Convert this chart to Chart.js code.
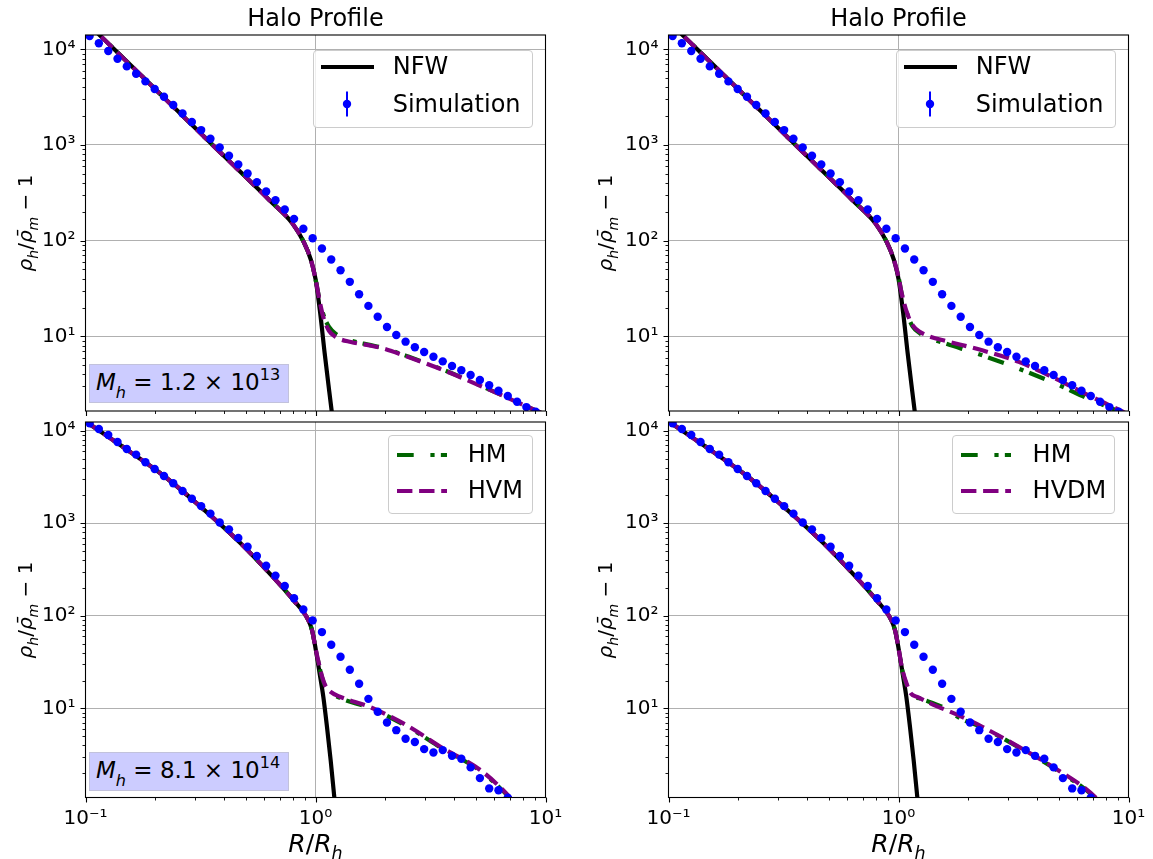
<!DOCTYPE html>
<html><head><meta charset="utf-8">
<script src="https://cdn.jsdelivr.net/npm/chart.js@4.4.1/dist/chart.umd.min.js"></script>
<style>
html,body{margin:0;padding:0;background:#fff;}
#page{position:relative;width:1153px;height:859px;overflow:hidden;font-family:'DejaVu Sans';color:#000;}
canvas{position:absolute;left:0;top:0;}
.abs{position:absolute;white-space:nowrap;}
.it{font-style:italic;}
.sub{font-size:0.7em;position:relative;top:0.45em;}
.sup{font-size:0.7em;position:relative;top:-0.62em;}
.legend{position:absolute;border:1px solid #cccccc;border-radius:4px;background:rgba(255,255,255,0.8);box-sizing:border-box;}
.mh{position:absolute;background:#ccccff;border:1px solid #c2c2dc;box-sizing:border-box;}
</style></head>
<body><div id="page"></div>
<script>
// ---------------- DATA ----------------
const xTickRange = [0.1, 10];
const topYRange = [1.656, 14125];
const bottomYRange = [1.093, 12400];

// radial bins of the simulation profile (R/R_h)
const simR = [0.1042,0.1143,0.1256,0.1378,0.1512,0.1660,0.1822,0.1999,0.2194,0.2407,
  0.2642,0.2900,0.3183,0.3493,0.3833,0.4207,0.4617,0.5067,0.5561,0.6103,
  0.6699,0.7352,0.8068,0.8855,0.9718,1.0666,1.1706,1.2848,1.4100,1.5475,
  1.6982,1.8638,2.0455,2.2450,2.4638,2.7040,2.9676,3.2569,3.5744,3.9228,
  4.3053,4.7250,5.1856,5.6911,6.2459,6.8549,7.5232,8.2565,9.0615,9.9449];
// simulation profile, M_h = 1.2e13 (top row)
const simTop = [13804,11561,9616,7980,6637,5559,4624,3846,3199,2618,
  2138,1738,1432,1161,944,771,627,504,409,327,
  265,212,169,133,106,82.8,63.5,49.1,37.1,27.5,
  20.8,16.0,12.5,10.3,8.79,7.67,6.85,6.12,5.47,4.90,
  4.42,3.94,3.49,3.08,2.70,2.38,2.07,1.82,1.63,1.45];
// simulation profile, M_h = 8.1e14 (bottom row)
const simBottom = [12000,10420,8970,7550,6340,5510,4550,3850,3240,2700,
  2230,1840,1530,1270,1020,859,692,558,443,348,
  272,210,155,117,89.3,66.8,48.8,36.2,26.2,18.5,
  12.7,9.2,7.06,5.83,4.71,4.34,3.64,3.35,3.55,3.08,
  2.86,2.31,1.77,1.37,1.31,1.09,1.0,0.85,0.7,0.6];

// NFW, top row
const nfwTopR = [0.1,0.1585,0.2512,0.3981,0.6310,0.7943,0.8913,0.9550,1.0,1.0471,1.0965,1.1482,1.2023,1.2589];
const nfwTopV = [19630,6683,2275,774.5,264.9,151.4,95.5,63.1,39.8,17.8,6.61,2.63,1.07,0.40];
// HM, top-left
const hmTLR = [0.1,0.1585,0.2512,0.3981,0.6310,0.7943,0.8913,0.9550,1.0,1.0423,1.0814,1.1429,1.2303,1.4256,1.7179,1.9953,2.4831,3.5975,5.2845,7.5509,10];
const hmTLV = [19630,6683,2275,774.5,264.9,151.4,95.5,63.1,39.8,24.0,17.0,12.6,10.5,9.02,8.13,7.50,6.24,4.47,3.01,2.04,1.51];
// HVM, top-left
const hvmTLR = [0.1,0.1585,0.2512,0.3981,0.6310,0.7943,0.8913,0.9550,1.0,1.0423,1.0814,1.1429,1.2303,1.4256,1.7179,1.9953,2.4831,3.5975,5.2845,7.5509,10];
const hvmTLV = [19630,6683,2275,774.5,264.9,151.4,95.5,63.1,39.8,23.4,15.85,11.48,9.77,8.71,8.04,7.41,6.17,4.42,2.99,2.04,1.51];
// HM, top-right
const hmTRR = [0.1,0.1585,0.2512,0.3981,0.6310,0.7943,0.8913,0.9550,1.0,1.0328,1.0914,1.1535,1.2417,1.3836,1.6032,2.3121,3.3343,4.8084,6.9343,8.3368,10];
const hmTRV = [19630,6683,2275,774.5,264.9,151.4,95.5,63.1,41.7,28.0,17.2,12.6,10.7,9.46,8.39,6.32,4.59,3.20,2.14,1.79,1.48];
// HVDM, top-right
const hvdmTRR = [0.1,0.1585,0.2512,0.3981,0.6310,0.7943,0.8913,0.9550,1.0,1.0328,1.0914,1.1535,1.2417,1.3836,1.6032,2.3121,3.3343,4.8084,6.9343,9.2897,10];
const hvdmTRV = [19630,6683,2275,774.5,264.9,151.4,95.5,63.1,41.7,28.0,17.3,13.0,11.1,9.84,8.95,7.13,5.40,3.61,2.32,1.66,1.51];

// NFW, bottom row
const nfwBotR = [0.1,0.1585,0.2208,0.3162,0.4699,0.6095,0.8091,0.9141,0.9660,1.0037,1.0423,1.0814,1.1220,1.1641,1.2078,1.2445];
const nfwBotV = [12590,5754,3199,1514,616.6,316.2,144.5,97.7,70.0,42.7,23.9,13.4,6.31,2.75,1.09,0.45];
// HM, bottom-left
const hmBLR = [0.1,0.1585,0.2208,0.3162,0.4699,0.6095,0.8091,0.9141,0.9660,1.0037,1.0423,1.0691,1.1015,1.1641,1.2764,1.7179,2.4831,3.5975,5.2119,7.0146,8.9125];
const hmBLV = [12590,5754,3199,1514,616.6,316.2,144.5,97.7,70.0,42.7,27.5,21.4,17.4,14.8,13.0,10.1,6.46,3.63,2.11,1.07,0.50];
// HVM, bottom-left
const hvmBLR = [0.1,0.1585,0.2208,0.3162,0.4699,0.6095,0.8091,0.9141,0.9660,1.0037,1.0423,1.0691,1.1015,1.1641,1.2764,1.7179,2.4831,3.5975,5.2119,7.0146,8.9125];
const hvmBLV = [12590,5754,3199,1514,616.6,316.2,144.5,97.7,70.0,42.7,28.2,21.9,17.8,15.1,13.4,10.4,6.61,3.70,2.16,1.09,0.50];
// HM, bottom-right
const hmBRR = [0.1,0.1585,0.2208,0.3162,0.4699,0.6095,0.8091,0.9141,0.9660,1.0037,1.0328,1.0839,1.1324,1.2417,1.6032,1.8578,2.3121,3.3343,4.8084,7.1945,8.9125];
const hmBRV = [12590,5754,3199,1514,616.6,316.2,144.5,97.7,70.0,42.7,27.5,17.8,14.1,12.8,10.0,7.80,6.24,3.80,2.21,1.07,0.56];
// HVDM, bottom-right
const hvdmBRR = [0.1,0.1585,0.2208,0.3162,0.4699,0.6095,0.8091,0.9141,0.9660,1.0037,1.0328,1.0839,1.1324,1.2190,1.3836,1.8578,2.3121,3.3343,4.8084,7.1945,8.9125];
const hvdmBRV = [12590,5754,3199,1514,616.6,316.2,144.5,97.7,70.0,42.7,28.2,18.6,14.5,13.2,11.3,8.26,6.34,3.85,2.25,1.09,0.56];

const titleText = 'Halo Profile';
const massLabels = ['1.2 × 10', '13', '8.1 × 10', '14'];

// ---------------- RENDER ----------------
const W = 1153, H = 859;
const page = document.getElementById('page');
const YW = 70, XH = 40;
const SUP = {'-':'⁻','0':'⁰','1':'¹','2':'²','3':'³','4':'⁴','5':'⁵','6':'⁶'};
function powLabel(v){
  const l = Math.log10(v), r = Math.round(l);
  if (Math.abs(l - r) > 1e-6) return '';
  return '10' + String(r).split('').map(c => SUP[c]).join('');
}
function tickKind(v){
  const l = Math.log10(v); const e = Math.floor(l + 1e-9);
  const s = v / Math.pow(10, e); const rs = Math.round(s);
  if (Math.abs(s - rs) > 1e-6) return null;
  return rs === 1 || rs === 10 ? 'major' : 'minor';
}
const pts = (R, V) => R.map((r, i) => ({x: r, y: V[i]}));

const framePlugin = {
  id: 'frame',
  afterDraw(chart){
    const {ctx, chartArea: a, scales} = chart;
    ctx.save();
    ctx.strokeStyle = '#000';
    const draw = (kind, width) => {
      ctx.lineWidth = width;
      ctx.beginPath();
      scales.x.ticks.forEach(t => {
        if (tickKind(t.value) !== kind) return;
        const len = kind === 'major' ? 5 : 3;
        const px = Math.round(scales.x.getPixelForValue(t.value)) + 0.5;
        ctx.moveTo(px, a.bottom); ctx.lineTo(px, a.bottom + len);
      });
      scales.y.ticks.forEach(t => {
        if (tickKind(t.value) !== kind) return;
        const len = kind === 'major' ? 5 : 3;
        const py = Math.round(scales.y.getPixelForValue(t.value)) + 0.5;
        ctx.moveTo(a.left, py); ctx.lineTo(a.left - len, py);
      });
      ctx.stroke();
    };
    draw('major', 1.1); draw('minor', 0.9);
    ctx.lineWidth = 1.1;
    ctx.strokeRect(a.left, a.top, a.right - a.left, a.bottom - a.top);
    ctx.restore();
  }
};

function buildChart(p){
  const c = document.createElement('canvas');
  c.width = W; c.height = H; c.style.width = W + 'px'; c.style.height = H + 'px';
  page.appendChild(c);
  const gridColor = ctx => (ctx.tick && tickKind(ctx.tick.value) === 'major') ? '#b0b0b0' : 'rgba(0,0,0,0)';
  const font = {family: 'DejaVu Sans', size: 20};
  return new Chart(c, {
    type: 'line',
    data: {datasets: [
      {label: 'Simulation', data: pts(simR, p.sim), showLine: false, pointRadius: 4.2, pointHoverRadius: 4.2,
       pointBackgroundColor: '#0000ff', pointBorderWidth: 0, borderColor: '#0000ff', backgroundColor: '#0000ff', order: 0, clip: 0},
      {label: p.altLabel, data: pts(p.alt[0], p.alt[1]), borderColor: '#800080', borderWidth: 4.2, borderDash: [15.4, 6.7],
       pointRadius: 0, cubicInterpolationMode: 'monotone', fill: false, order: 1, clip: 0},
      {label: 'HM', data: pts(p.hm[0], p.hm[1]), borderColor: '#006400', borderWidth: 4.2, borderDash: [16.7, 16.7, 4.2, 6.25],
       pointRadius: 0, cubicInterpolationMode: 'monotone', fill: false, order: 2, clip: 0},
      {label: 'NFW', data: pts(p.nfw[0], p.nfw[1]), borderColor: '#000000', borderWidth: 4.2,
       pointRadius: 0, cubicInterpolationMode: 'monotone', fill: false, order: 3, clip: 0}
    ]},
    options: {
      responsive: false, animation: false, devicePixelRatio: 1, events: [],
      layout: {autoPadding: false, padding: {left: p.left - YW, right: W - p.right, top: p.top, bottom: H - p.bottom - XH}},
      plugins: {legend: {display: false}, tooltip: {enabled: false}, title: {display: false}},
      scales: {
        x: {type: 'logarithmic', position: 'bottom', min: xTickRange[0], max: xTickRange[1],
            grid: {drawTicks: false, color: gridColor, lineWidth: 1},
            border: {display: false},
            ticks: {display: p.xLabels, autoSkip: false, maxRotation: 0, minRotation: 0, padding: 9,
                    color: '#000', font: font, callback: v => powLabel(v)},
            afterFit: s => { s.height = XH; s.paddingLeft = 0; s.paddingRight = 0; }},
        y: {type: 'logarithmic', position: 'left', min: p.yRange[0], max: p.yRange[1],
            grid: {drawTicks: false, color: gridColor, lineWidth: 1},
            border: {display: false},
            ticks: {autoSkip: false, padding: 10, color: '#000', font: font, callback: v => powLabel(v)},
            afterFit: s => { s.width = YW; s.paddingTop = 0; s.paddingBottom = 0; }}
      }
    },
    plugins: [framePlugin]
  });
}

const panels = [
  {left: 85.5, right: 545.5, top: 35, bottom: 411, yRange: topYRange, sim: simTop,
   nfw: [nfwTopR, nfwTopV], hm: [hmTLR, hmTLV], alt: [hvmTLR, hvmTLV], altLabel: 'HVM', xLabels: false},
  {left: 668.5, right: 1128.5, top: 35, bottom: 411, yRange: topYRange, sim: simTop,
   nfw: [nfwTopR, nfwTopV], hm: [hmTRR, hmTRV], alt: [hvdmTRR, hvdmTRV], altLabel: 'HVDM', xLabels: false},
  {left: 85.5, right: 545.5, top: 422, bottom: 797.5, yRange: bottomYRange, sim: simBottom,
   nfw: [nfwBotR, nfwBotV], hm: [hmBLR, hmBLV], alt: [hvmBLR, hvmBLV], altLabel: 'HVM', xLabels: true},
  {left: 668.5, right: 1128.5, top: 422, bottom: 797.5, yRange: bottomYRange, sim: simBottom,
   nfw: [nfwBotR, nfwBotV], hm: [hmBRR, hmBRV], alt: [hvdmBRR, hvdmBRV], altLabel: 'HVDM', xLabels: true}
];
panels.forEach(buildChart);

// ---------------- TEXT OVERLAYS ----------------
function addDiv(html, style, cls){
  const d = document.createElement('div');
  d.className = cls || 'abs';
  d.innerHTML = html;
  Object.assign(d.style, style);
  page.appendChild(d);
  return d;
}
// top position of a line box so that its baseline lands at y (DejaVu metrics)
const topFor = (baseline, fs, lh) => (baseline - (lh / 2 + 0.346 * fs)) + 'px';

[315.5, 898.5].forEach(cx => {
  addDiv(titleText, {left: (cx - 150) + 'px', width: '300px', textAlign: 'center', fontSize: '24px', lineHeight: '24px', top: topFor(26.7, 24, 24)});
  addDiv('<span class="it">R</span>/<span class="it">R</span><span class="sub it">h</span>',
    {left: (cx - 100) + 'px', width: '200px', textAlign: 'center', fontSize: '25px', lineHeight: '25px', top: topFor(851.7, 25, 25)});
});
const yLabelHtml = '<span class="it">ρ</span><span class="sub it">h</span>/<span class="it">ρ̄</span><span class="sub it">m</span> − 1';
[[25.5, 223], [605.6, 223], [25.5, 609.7], [605.6, 609.7]].forEach(([cx, cy]) => {
  addDiv(yLabelHtml, {left: cx + 'px', top: cy + 'px', fontSize: '20px', lineHeight: '24px',
    transform: 'translate(-50%,-50%) rotate(-90deg)'});
});

// mass boxes
[[363.7, massLabels[0], massLabels[1]], [751.7, massLabels[2], massLabels[3]]].forEach(([top, txt, ex]) => {
  addDiv('', {left: '89px', top: top + 'px', width: '200px', height: '39.5px'}, 'mh');
  addDiv('<span class="it">M</span><span class="sub it" style="top:0.5em">h</span> = ' + txt + '<span class="sup">' + ex + '</span>',
    {left: '96px', fontSize: '23px', lineHeight: '23px', top: topFor(top + 27, 23, 23)});
});

// legends
function lineSvg(w, color, dash){
  return '<svg width="' + w + '" height="10" style="position:absolute;left:0;top:0"><line x1="0" y1="5" x2="' + w +
    '" y2="5" stroke="' + color + '" stroke-width="4.2"' + (dash ? ' stroke-dasharray="' + dash + '"' : '') + '/></svg>';
}
[0, 583].forEach(dx => {
  addDiv('', {left: (312.7 + dx) + 'px', top: '49.7px', width: '220px', height: '78.3px'}, 'legend');
  addDiv(lineSvg(53.3, '#000', null), {left: (320.7 + dx) + 'px', top: '62px', width: '54px', height: '10px'});
  addDiv('<svg width="12" height="28" style="position:absolute;left:0;top:0"><line x1="6" y1="0.5" x2="6" y2="25.5" stroke="#0000ff" stroke-width="2"/><circle cx="6" cy="13" r="4.2" fill="#0000ff"/></svg>',
    {left: (341.3 + dx) + 'px', top: '91px', width: '12px', height: '28px'});
  addDiv('NFW', {left: (392.7 + dx) + 'px', fontSize: '24px', lineHeight: '24px', top: topFor(74.7, 24, 24)});
  addDiv('Simulation', {left: (392.7 + dx) + 'px', fontSize: '24px', lineHeight: '24px', top: topFor(112.3, 24, 24)});
});
[[387.7, 145.6, 397, 467.7, 'HVM'], [951.7, 163.8, 961.1, 1032.6, 'HVDM']].forEach(([bx, bw, lx, tx, lab]) => {
  addDiv('', {left: bx + 'px', top: '435.3px', width: bw + 'px', height: '78.4px'}, 'legend');
  addDiv(lineSvg(50, '#006400', '16.7 16.7 4.2 6.25'), {left: lx + 'px', top: '450px', width: '50px', height: '10px'});
  addDiv(lineSvg(50, '#800080', '15.4 6.7'), {left: lx + 'px', top: '486.3px', width: '50px', height: '10px'});
  addDiv('HM', {left: tx + 'px', fontSize: '24px', lineHeight: '24px', top: topFor(462.7, 24, 24)});
  addDiv(lab, {left: tx + 'px', fontSize: '24px', lineHeight: '24px', top: topFor(498.7, 24, 24)});
});
</script>
</body></html>
